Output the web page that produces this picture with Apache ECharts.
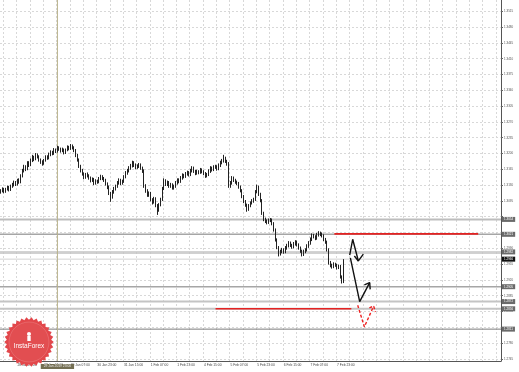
<!DOCTYPE html>
<html><head><meta charset="utf-8">
<script src="https://cdn.jsdelivr.net/npm/echarts@6/dist/echarts.min.js"></script>
<style>html,body{margin:0;padding:0;background:#fff}#c{width:519px;height:372px}</style>
</head><body><div id="c"></div>
<script>
// trading days (hourly bars, weekend skipped); bar index 0 = 28 Jan 00:00
const days = ['28 Jan','29 Jan','30 Jan','31 Jan','1 Feb','4 Feb','5 Feb','6 Feb','7 Feb','8 Feb','11 Feb','12 Feb','13 Feb','14 Feb'];
const axisFirstBar = 13;    // first category on the time axis (= first candle)
const axisLastBar = 313;    // last category (empty future space)
const labelEvery = 16, gridEvery = 8, labelPhase = 7; // labels at 07:00, 23:00, 15:00 ...
// hourly candles [open, close, low, high]
const candles = [
[1.3115,1.3118,1.3111,1.3121],[1.3118,1.3122,1.3114,1.3125],[1.3122,1.3116,1.3112,1.3124],[1.3116,1.3121,1.3113,1.3124],
[1.3121,1.3125,1.3118,1.3129],[1.3125,1.3120,1.3116,1.3128],[1.3120,1.3128,1.3117,1.3131],[1.3128,1.3131,1.3124,1.3135],
[1.3131,1.3136,1.3127,1.3140],[1.3136,1.3132,1.3128,1.3139],[1.3132,1.3140,1.3129,1.3144],[1.3140,1.3137,1.3133,1.3145],
[1.3137,1.3150,1.3134,1.3154],[1.3150,1.3162,1.3147,1.3166],[1.3162,1.3170,1.3158,1.3175],[1.3170,1.3166,1.3161,1.3174],
[1.3166,1.3179,1.3163,1.3183],[1.3179,1.3175,1.3170,1.3183],[1.3175,1.3185,1.3172,1.3189],[1.3185,1.3192,1.3181,1.3197],
[1.3192,1.3188,1.3183,1.3195],[1.3188,1.3197,1.3185,1.3201],[1.3197,1.3193,1.3189,1.3200],[1.3193,1.3186,1.3182,1.3196],
[1.3186,1.3182,1.3177,1.3189],[1.3182,1.3178,1.3173,1.3185],[1.3178,1.3185,1.3175,1.3188],[1.3185,1.3192,1.3182,1.3196],
[1.3192,1.3190,1.3186,1.3196],[1.3190,1.3198,1.3187,1.3202],[1.3198,1.3203,1.3194,1.3207],[1.3203,1.3200,1.3196,1.3206],
[1.3200,1.3208,1.3197,1.3212],[1.3208,1.3205,1.3201,1.3211],[1.3205,1.3213,1.3202,1.3217],[1.3213,1.3210,1.3206,1.3216],
[1.3210,1.3206,1.3202,1.3213],[1.3206,1.3209,1.3203,1.3213],[1.3209,1.3202,1.3198,1.3211],[1.3202,1.3208,1.3199,1.3211],
[1.3208,1.3214,1.3205,1.3218],[1.3214,1.3211,1.3207,1.3217],[1.3211,1.3217,1.3208,1.3221],[1.3217,1.3213,1.3209,1.3220],
[1.3213,1.3207,1.3203,1.3216],[1.3207,1.3196,1.3192,1.3210],[1.3196,1.3186,1.3182,1.3199],[1.3186,1.3172,1.3168,1.3189],
[1.3172,1.3163,1.3158,1.3175],[1.3163,1.3155,1.3151,1.3166],[1.3155,1.3147,1.3143,1.3158],[1.3147,1.3153,1.3144,1.3157],
[1.3153,1.3151,1.3147,1.3158],[1.3151,1.3146,1.3142,1.3154],[1.3146,1.3140,1.3136,1.3149],[1.3140,1.3143,1.3137,1.3147],
[1.3143,1.3134,1.3130,1.3146],[1.3134,1.3139,1.3131,1.3143],[1.3139,1.3137,1.3133,1.3142],[1.3137,1.3144,1.3134,1.3148],
[1.3144,1.3149,1.3141,1.3153],[1.3149,1.3145,1.3141,1.3152],[1.3145,1.3141,1.3137,1.3148],[1.3141,1.3133,1.3129,1.3144],
[1.3133,1.3126,1.3121,1.3136],[1.3126,1.3112,1.3108,1.3129],[1.3112,1.3104,1.3093,1.3115],[1.3104,1.3115,1.3100,1.3119],
[1.3115,1.3122,1.3111,1.3126],[1.3122,1.3127,1.3118,1.3131],[1.3127,1.3135,1.3124,1.3139],[1.3135,1.3141,1.3131,1.3145],
[1.3141,1.3134,1.3130,1.3144],[1.3134,1.3138,1.3131,1.3142],[1.3138,1.3148,1.3135,1.3152],[1.3148,1.3157,1.3145,1.3161],
[1.3157,1.3162,1.3153,1.3166],[1.3162,1.3168,1.3158,1.3172],[1.3168,1.3173,1.3164,1.3177],[1.3173,1.3179,1.3169,1.3184],
[1.3179,1.3175,1.3170,1.3183],[1.3175,1.3169,1.3165,1.3178],[1.3169,1.3172,1.3166,1.3176],[1.3172,1.3175,1.3168,1.3179],
[1.3175,1.3168,1.3164,1.3178],[1.3168,1.3162,1.3157,1.3171],[1.3162,1.3128,1.3124,1.3165],[1.3128,1.3118,1.3113,1.3132],
[1.3118,1.3108,1.3104,1.3121],[1.3108,1.3112,1.3104,1.3116],[1.3112,1.3098,1.3094,1.3115],[1.3098,1.3092,1.3087,1.3101],
[1.3092,1.3100,1.3089,1.3104],[1.3100,1.3085,1.3081,1.3103],[1.3085,1.3074,1.3064,1.3088],[1.3074,1.3086,1.3071,1.3090],
[1.3086,1.3098,1.3083,1.3102],[1.3098,1.3122,1.3095,1.3126],[1.3122,1.3140,1.3119,1.3145],[1.3140,1.3132,1.3128,1.3143],
[1.3132,1.3136,1.3128,1.3140],[1.3136,1.3128,1.3124,1.3139],[1.3128,1.3131,1.3124,1.3135],[1.3131,1.3124,1.3120,1.3134],
[1.3124,1.3127,1.3120,1.3131],[1.3127,1.3135,1.3124,1.3139],[1.3135,1.3141,1.3131,1.3145],[1.3141,1.3138,1.3134,1.3145],
[1.3138,1.3146,1.3135,1.3150],[1.3146,1.3152,1.3142,1.3156],[1.3152,1.3149,1.3145,1.3155],[1.3149,1.3155,1.3146,1.3159],
[1.3155,1.3158,1.3151,1.3162],[1.3158,1.3153,1.3149,1.3161],[1.3153,1.3162,1.3150,1.3166],[1.3162,1.3168,1.3158,1.3172],
[1.3168,1.3161,1.3157,1.3171],[1.3161,1.3156,1.3152,1.3164],[1.3156,1.3160,1.3153,1.3164],[1.3160,1.3158,1.3154,1.3163],
[1.3158,1.3164,1.3155,1.3168],[1.3164,1.3160,1.3156,1.3167],[1.3160,1.3156,1.3152,1.3163],[1.3156,1.3150,1.3146,1.3159],
[1.3150,1.3153,1.3147,1.3157],[1.3153,1.3161,1.3150,1.3165],[1.3161,1.3168,1.3157,1.3172],[1.3168,1.3164,1.3160,1.3171],
[1.3164,1.3170,1.3161,1.3174],[1.3170,1.3171,1.3166,1.3175],[1.3171,1.3166,1.3162,1.3174],[1.3166,1.3174,1.3163,1.3178],
[1.3174,1.3180,1.3170,1.3184],[1.3180,1.3184,1.3176,1.3188],[1.3184,1.3190,1.3180,1.3197],[1.3190,1.3183,1.3179,1.3193],
[1.3183,1.3178,1.3173,1.3186],[1.3178,1.3128,1.3124,1.3181],[1.3128,1.3135,1.3124,1.3139],[1.3135,1.3146,1.3131,1.3150],
[1.3146,1.3141,1.3137,1.3149],[1.3141,1.3137,1.3133,1.3144],[1.3137,1.3134,1.3130,1.3140],[1.3134,1.3126,1.3122,1.3137],
[1.3126,1.3118,1.3114,1.3129],[1.3118,1.3105,1.3101,1.3121],[1.3105,1.3094,1.3090,1.3108],[1.3094,1.3086,1.3082,1.3097],
[1.3086,1.3076,1.3071,1.3089],[1.3076,1.3084,1.3073,1.3088],[1.3084,1.3090,1.3081,1.3094],[1.3090,1.3095,1.3087,1.3099],
[1.3095,1.3098,1.3091,1.3102],[1.3098,1.3115,1.3095,1.3119],[1.3115,1.3126,1.3112,1.3131],[1.3126,1.3110,1.3106,1.3129],
[1.3110,1.3096,1.3092,1.3113],[1.3096,1.3068,1.3064,1.3099],[1.3068,1.3054,1.3050,1.3071],[1.3054,1.3050,1.3046,1.3058],
[1.3050,1.3047,1.3043,1.3054],[1.3047,1.3052,1.3044,1.3056],[1.3052,1.3053,1.3048,1.3057],[1.3053,1.3045,1.3041,1.3056],
[1.3045,1.3031,1.3027,1.3048],[1.3031,1.3009,1.3005,1.3034],[1.3009,1.2992,1.2988,1.3012],[1.2992,1.2977,1.2972,1.2995],
[1.2977,1.2983,1.2974,1.2987],[1.2983,1.2987,1.2979,1.2991],[1.2987,1.2982,1.2978,1.2990],[1.2982,1.2991,1.2979,1.2995],
[1.2991,1.2996,1.2987,1.3000],[1.2996,1.3002,1.2992,1.3006],[1.3002,1.2997,1.2993,1.3005],[1.2997,1.2993,1.2989,1.3000],
[1.2993,1.3000,1.2990,1.3004],[1.3000,1.3004,1.2996,1.3008],[1.3004,1.2998,1.2994,1.3007],[1.2998,1.2991,1.2987,1.3001],
[1.2991,1.2984,1.2980,1.2994],[1.2984,1.2976,1.2972,1.2987],[1.2976,1.2983,1.2973,1.2987],[1.2983,1.2986,1.2979,1.2990],
[1.2986,1.2995,1.2983,1.2999],[1.2995,1.3002,1.2991,1.3006],[1.3002,1.3010,1.2998,1.3014],[1.3010,1.3019,1.3006,1.3023],
[1.3019,1.3016,1.3012,1.3022],[1.3016,1.3012,1.3008,1.3019],[1.3012,1.3020,1.3009,1.3024],[1.3020,1.3024,1.3016,1.3028],
[1.3024,1.3021,1.3017,1.3027],[1.3021,1.3018,1.3014,1.3025],[1.3018,1.3010,1.3006,1.3021],[1.3010,1.3004,1.3000,1.3013],
[1.3004,1.2987,1.2983,1.3007],[1.2987,1.2958,1.2954,1.2990],[1.2958,1.2952,1.2948,1.2962],[1.2952,1.2949,1.2945,1.2956],
[1.2949,1.2955,1.2946,1.2959],[1.2955,1.2953,1.2949,1.2958],[1.2953,1.2947,1.2943,1.2956],[1.2947,1.2950,1.2944,1.2954],
[1.2950,1.2927,1.2923,1.2953],[1.2927,1.2916,1.2912,1.2930],[1.2916,1.2962,1.2913,1.2966]
];
// price scale
const yMin = 1.27404, yMax = 1.35400;
const gridTicks = [1.3515,1.3480,1.3445,1.3410,1.3375,1.3340,1.3305,1.3270,1.3235,1.3200,1.3165,1.3130,1.3095,1.3060,1.3025,1.2990,1.2955,1.2920,1.2885,1.2850,1.2815,1.2780,1.2745];
const labelTicks = [1.3515,1.3480,1.3445,1.3410,1.3375,1.3340,1.3305,1.3270,1.3235,1.3200,1.3165,1.3130,1.3095,1.2990,1.2955,1.2920,1.2885,1.2850,1.2780,1.2745];
// horizontal price levels drawn on the chart
const levelPrices = [1.3054, 1.3021, 1.2982, 1.2979, 1.2966, 1.2905, 1.2872, 1.2856, 1.2811];
const levelColors = ['#bdbdbd','#a6a6a6','#c4c4c4','#c4c4c4','#d2d2d2','#a6a6a6','#c4c4c4','#c4c4c4','#7c7c7c'];
const levelWidths = [2, 1.5, 1.5, 1, 1, 1.5, 2, 2, 1];
const levelLabel = ['box','box','box','none','bid','box','box','box','box'];
// annotations in (bar index, price)
const redUpper = [[213.4,1.3022],[299.8,1.3022]];
const redLower = [[142.0,1.2856],[223.6,1.2856]];
const blackArrow1 = [[222.6,1.2975],[224.4,1.3010],[227.8,1.2962]];
const blackArrow1Head = [[225.4,1.2973],[227.8,1.2962],[230.8,1.2977]];
const blackArrow2 = [[223.0,1.2969],[228.6,1.2872],[234.6,1.2914]];
const blackArrow2Head = [[231.4,1.2909],[234.6,1.2914],[234.9,1.2899]];
const redArrow = [[227.4,1.2864],[231.4,1.2816],[237.0,1.2862]];
const redArrowHead = [[234.4,1.2858],[237.0,1.2862],[238.0,1.2849]];
const crossBar = 47;
const crossLabel = '29 Jan 2019 23:00';

const cats = [];
for (let i = axisFirstBar; i <= axisLastBar; i++) {
  const h = i % 24;
  cats.push(days[Math.floor(i / 24)] + ' ' + (h < 10 ? '0' : '') + h + ':00');
}
const lastCandleIdx = candles.length - 1;
const phase = (idx, n) => ((idx + axisFirstBar - labelPhase) % n + n) % n === 0;

const FONT = 'Liberation Sans';
const seal = [];
for (let t = 0; t < 60; t++) {
  const a = t * Math.PI / 30, r = t % 2 ? 22.3 : 24.8;
  seal.push([29 + r * Math.cos(a), 342 + r * Math.sin(a)]);
}

const chart = echarts.init(document.getElementById('c'), null, {renderer: 'canvas'});
const lineS = (data, color, width, type, z) => ({
  type: 'line', xAxisIndex: 1, yAxisIndex: 0, data, symbol: 'none', silent: true, z,
  lineStyle: {color, width, type: type || 'solid'}, animation: false
});
const levelSeries = levelPrices.map((p, n) => Object.assign(
  lineS([[axisFirstBar - 0.5, p], [axisLastBar + 0.5, p]], levelColors[n], levelWidths[n], 'solid', 1), {
    endLabel: {
      show: levelLabel[n] !== 'none', formatter: p.toFixed(4), distance: 1,
      fontSize: 3, color: '#fff', fontFamily: FONT,
      backgroundColor: levelLabel[n] === 'bid' ? '#111' : '#6a6a6a', padding: [1, 2]
    }
  }));

chart.setOption({
  animation: false,
  backgroundColor: '#ffffff',
  grid: {left: 0, right: 18, top: 0, bottom: 11, containLabel: false},
  xAxis: [{
    type: 'category', data: cats, boundaryGap: true,
    axisLine: {show: true, lineStyle: {color: '#555', width: 1}},
    axisTick: {show: false},
    splitLine: {show: true, interval: (idx) => phase(idx, gridEvery), lineStyle: {color: '#d8d8d8', type: [2, 2], width: 1}},
    axisLabel: {
      interval: (idx) => phase(idx, labelEvery) && idx <= lastCandleIdx,
      align: 'left', fontSize: 3.3, color: '#444', margin: 3, fontFamily: FONT
    }
  }, {
    type: 'value', min: axisFirstBar - 0.5, max: axisLastBar + 0.5, show: false
  }],
  yAxis: {
    type: 'value', position: 'right', min: yMin, max: yMax, scale: true,
    axisLine: {show: true, lineStyle: {color: '#555', width: 1}},
    axisTick: {show: true, length: 2, customValues: gridTicks, lineStyle: {color: '#666'}},
    splitLine: {show: true, lineStyle: {color: '#d8d8d8', type: [2, 2], width: 1}},
    axisLabel: {customValues: labelTicks, formatter: v => v.toFixed(4), fontSize: 3, color: '#555', margin: 3, fontFamily: FONT}
  },
  series: levelSeries.concat([
    lineS([[crossBar, yMax], [crossBar, yMin]], '#b9b38c', 1, 'solid', 1),
    {
      type: 'candlestick', xAxisIndex: 0, yAxisIndex: 0, data: candles, z: 2, barWidth: 1,
      itemStyle: {color: '#111', color0: '#111', borderColor: '#222', borderColor0: '#222', borderWidth: 1}
    },
    lineS(redUpper, '#e42222', 1.6, 'solid', 3),
    lineS(redLower, '#e42222', 1.6, 'solid', 3),
    lineS(blackArrow1, '#111', 1.4, 'solid', 4),
    lineS(blackArrow1Head, '#111', 1.4, 'solid', 4),
    lineS(blackArrow2, '#111', 1.4, 'solid', 4),
    lineS(blackArrow2Head, '#111', 1.4, 'solid', 4),
    lineS(redArrow, '#ee2222', 1.4, [3, 2], 4),
    lineS(redArrowHead, '#ee2222', 1.4, [3, 2], 4)
  ])
});
const cp = chart.convertToPixel({xAxisIndex: 1, yAxisIndex: 0}, [crossBar, yMin]);
chart.setOption({
  graphic: [
    {type: 'text', x: cp[0], y: cp[1] + 3, z: 50,
      style: {text: crossLabel, fill: '#eee', font: '3.3px "Liberation Sans"', align: 'center', verticalAlign: 'top',
        backgroundColor: '#736e52', padding: [1, 3]}},
    {type: 'polygon', shape: {points: seal}, style: {fill: '#e2474b'}, z: 100},
    {type: 'circle', shape: {cx: 29, cy: 342, r: 20}, style: {fill: '#e24e51', stroke: 'rgba(255,255,255,0.15)', lineWidth: 1}, z: 100},
    {type: 'circle', shape: {cx: 29, cy: 334, r: 2}, style: {fill: '#fff'}, z: 101},
    {type: 'rect', shape: {x: 27.3, y: 336, width: 3.4, height: 5}, style: {fill: '#fff'}, z: 101},
    {type: 'text', x: 29, y: 346, style: {text: 'InstaForex', fill: '#fff', font: '6.5px "Liberation Sans"', align: 'center', verticalAlign: 'middle'}, z: 101}
  ]
});
</script></body></html>
